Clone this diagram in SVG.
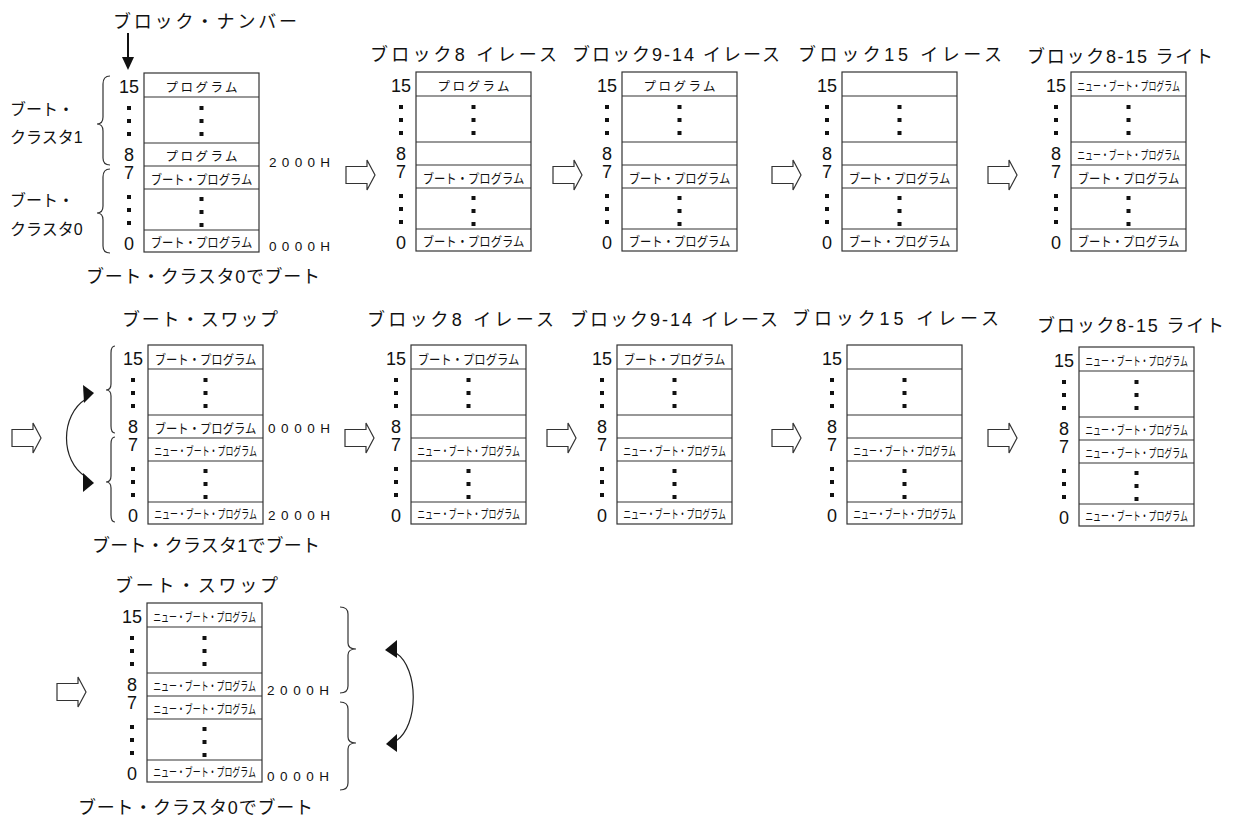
<svg xmlns="http://www.w3.org/2000/svg" xmlns:xlink="http://www.w3.org/1999/xlink" width="1237" height="825" viewBox="0 0 1237 825">
<style>
text{font-family:'Liberation Sans','Noto Sans CJK JP',sans-serif;fill:#111}
.ti{font-size:18px}
.n{font-size:18px;text-anchor:middle}
.p{font-size:12.5px;text-anchor:middle}
.bp{font-size:13px;text-anchor:middle}
.nb{font-size:12px;text-anchor:middle}
.hx{font-size:13.5px}
.lb{font-size:16px}
.box{fill:#fff;stroke:#333;stroke-width:1.2}
.ln{fill:none;stroke:#333;stroke-width:1.2}
.ha{fill:#fff;stroke:#333;stroke-width:1.2}
.br{fill:none;stroke:#333;stroke-width:1.2}
.cv{fill:none;stroke:#222;stroke-width:1.2}
.ah{fill:#111}
.dt{fill:#111}
</style>
<defs>
<g id="d3" class="dt"><rect x="-2" y="-2" width="4" height="4"/><rect x="-2" y="11" width="4" height="4"/><rect x="-2" y="24" width="4" height="4"/></g>
<g id="frame">
<rect class="box" x="0" y="0" width="115" height="179"/>
<path class="ln" d="M0 24H115M0 70H115M0 93H115M0 116H115M0 157H115"/>
<use href="#d3" xlink:href="#d3" x="57.5" y="35"/>
<use href="#d3" xlink:href="#d3" x="57.5" y="126"/>
<use href="#d3" xlink:href="#d3" x="-15" y="35"/>
<use href="#d3" xlink:href="#d3" x="-15" y="124"/>
</g>
<polygon id="harr" class="ha" points="0,-8.5 21,-8.5 21,-15 29,0 21,15 21,8.5 0,8.5"/>
</defs>
<rect width="1237" height="825" fill="#fff"/>

<!-- Row 1 -->
<g id="r1b1">
<text class="ti" x="113" y="28" textLength="184">ブロック・ナンバー</text>
<text class="lb" x="10" y="115">ブート・</text>
<text class="lb" x="10" y="143">クラスタ1</text>
<text class="lb" x="10" y="206">ブート・</text>
<text class="lb" x="10" y="235">クラスタ0</text>
<path class="br" d="M110 76Q103 76 103 84L103 117Q103 124 97 124Q103 124 103 131L103 158Q103 165 110 165"/>
<path class="br" d="M110 169Q103 169 103 177L103 206Q103 213 97 213Q103 213 103 220L103 246Q103 253 110 253"/>
<g transform="translate(144,73)">
<use href="#frame" xlink:href="#frame"/>
<text class="n" x="-15" y="20">15</text><text class="n" x="-15" y="88">8</text><text class="n" x="-15" y="106">7</text><text class="n" x="-15" y="177">0</text>
<text class="p" x="57.5" y="19" textLength="72">プログラム</text>
<text class="p" x="57.5" y="88" textLength="72">プログラム</text>
<text class="bp" transform="translate(57.5,111) scale(0.872,1)">ブート・プログラム</text>
<text class="bp" transform="translate(57.5,174) scale(0.872,1)">ブート・プログラム</text>
</g>
<text class="hx" x="269" y="167" textLength="61">2000H</text>
<text class="hx" x="269" y="251" textLength="61">0000H</text>
<text class="ti" x="86" y="283" textLength="234">ブート・クラスタ0でブート</text>
</g>

<g id="r1b2">
<text class="ti" x="370" y="61" textLength="187">ブロック8 イレース</text>
<g transform="translate(416,72)">
<use href="#frame" xlink:href="#frame"/>
<text class="n" x="-15" y="20">15</text><text class="n" x="-15" y="88">8</text><text class="n" x="-15" y="106">7</text><text class="n" x="-15" y="177">0</text>
<text class="p" x="57.5" y="19" textLength="72">プログラム</text>
<text class="bp" transform="translate(57.5,111) scale(0.872,1)">ブート・プログラム</text>
<text class="bp" transform="translate(57.5,174) scale(0.872,1)">ブート・プログラム</text>
</g>
</g>

<g id="r1b3">
<text class="ti" x="572" y="61" textLength="208">ブロック9-14 イレース</text>
<g transform="translate(622,72)">
<use href="#frame" xlink:href="#frame"/>
<text class="n" x="-15" y="20">15</text><text class="n" x="-15" y="88">8</text><text class="n" x="-15" y="106">7</text><text class="n" x="-15" y="177">0</text>
<text class="p" x="57.5" y="19" textLength="72">プログラム</text>
<text class="bp" transform="translate(57.5,111) scale(0.872,1)">ブート・プログラム</text>
<text class="bp" transform="translate(57.5,174) scale(0.872,1)">ブート・プログラム</text>
</g>
</g>

<g id="r1b4">
<text class="ti" x="798" y="61" textLength="204">ブロック15 イレース</text>
<g transform="translate(842,72)">
<use href="#frame" xlink:href="#frame"/>
<text class="n" x="-15" y="20">15</text><text class="n" x="-15" y="88">8</text><text class="n" x="-15" y="106">7</text><text class="n" x="-15" y="177">0</text>
<text class="bp" transform="translate(57.5,111) scale(0.872,1)">ブート・プログラム</text>
<text class="bp" transform="translate(57.5,174) scale(0.872,1)">ブート・プログラム</text>
</g>
</g>

<g id="r1b5">
<text class="ti" x="1027" y="63" textLength="186">ブロック8-15 ライト</text>
<g transform="translate(1071,72)">
<use href="#frame" xlink:href="#frame"/>
<text class="n" x="-15" y="20">15</text><text class="n" x="-15" y="88">8</text><text class="n" x="-15" y="106">7</text><text class="n" x="-15" y="177">0</text>
<text class="nb" transform="translate(57.5,19) scale(0.66,1)">ニュー・ブート・プログラム</text>
<text class="nb" transform="translate(57.5,88) scale(0.66,1)">ニュー・ブート・プログラム</text>
<text class="bp" transform="translate(57.5,111) scale(0.872,1)">ブート・プログラム</text>
<text class="bp" transform="translate(57.5,174) scale(0.872,1)">ブート・プログラム</text>
</g>
</g>

<!-- Row 2 -->
<g id="r2b1">
<text class="ti" x="122" y="326" textLength="156">ブート・スワップ</text>
<path class="br" d="M115 346Q111 346 111 353L111 384Q111 390 106 390Q111 390 111 396L111 426Q111 433 115 433"/>
<path class="br" d="M115 437Q111 437 111 444L111 476Q111 482 106 482Q111 482 111 488L111 515Q111 522 115 522"/>
<g transform="translate(148,345)">
<use href="#frame" xlink:href="#frame"/>
<text class="n" x="-15" y="20">15</text><text class="n" x="-15" y="88">8</text><text class="n" x="-15" y="106">7</text><text class="n" x="-15" y="177">0</text>
<text class="bp" transform="translate(57.5,19) scale(0.872,1)">ブート・プログラム</text>
<text class="bp" transform="translate(57.5,88) scale(0.872,1)">ブート・プログラム</text>
<text class="nb" transform="translate(57.5,111) scale(0.66,1)">ニュー・ブート・プログラム</text>
<text class="nb" transform="translate(57.5,174) scale(0.66,1)">ニュー・ブート・プログラム</text>
</g>
<text class="hx" x="268" y="433" textLength="62">0000H</text>
<text class="hx" x="268" y="520" textLength="62">2000H</text>
<text class="ti" x="92" y="552" textLength="228">ブート・クラスタ1でブート</text>
</g>

<g id="r2b2">
<text class="ti" x="367" y="326" textLength="187">ブロック8 イレース</text>
<g transform="translate(411,345)">
<use href="#frame" xlink:href="#frame"/>
<text class="n" x="-15" y="20">15</text><text class="n" x="-15" y="88">8</text><text class="n" x="-15" y="106">7</text><text class="n" x="-15" y="177">0</text>
<text class="bp" transform="translate(57.5,19) scale(0.872,1)">ブート・プログラム</text>
<text class="nb" transform="translate(57.5,111) scale(0.66,1)">ニュー・ブート・プログラム</text>
<text class="nb" transform="translate(57.5,174) scale(0.66,1)">ニュー・ブート・プログラム</text>
</g>
</g>

<g id="r2b3">
<text class="ti" x="570" y="326" textLength="208">ブロック9-14 イレース</text>
<g transform="translate(617,345)">
<use href="#frame" xlink:href="#frame"/>
<text class="n" x="-15" y="20">15</text><text class="n" x="-15" y="88">8</text><text class="n" x="-15" y="106">7</text><text class="n" x="-15" y="177">0</text>
<text class="bp" transform="translate(57.5,19) scale(0.872,1)">ブート・プログラム</text>
<text class="nb" transform="translate(57.5,111) scale(0.66,1)">ニュー・ブート・プログラム</text>
<text class="nb" transform="translate(57.5,174) scale(0.66,1)">ニュー・ブート・プログラム</text>
</g>
</g>

<g id="r2b4">
<text class="ti" x="792" y="325" textLength="207">ブロック15 イレース</text>
<g transform="translate(847,345)">
<use href="#frame" xlink:href="#frame"/>
<text class="n" x="-15" y="20">15</text><text class="n" x="-15" y="88">8</text><text class="n" x="-15" y="106">7</text><text class="n" x="-15" y="177">0</text>
<text class="nb" transform="translate(57.5,111) scale(0.66,1)">ニュー・ブート・プログラム</text>
<text class="nb" transform="translate(57.5,174) scale(0.66,1)">ニュー・ブート・プログラム</text>
</g>
</g>

<g id="r2b5">
<text class="ti" x="1037" y="332" textLength="187">ブロック8-15 ライト</text>
<g transform="translate(1079,347)">
<use href="#frame" xlink:href="#frame"/>
<text class="n" x="-15" y="20">15</text><text class="n" x="-15" y="88">8</text><text class="n" x="-15" y="106">7</text><text class="n" x="-15" y="177">0</text>
<text class="nb" transform="translate(57.5,19) scale(0.66,1)">ニュー・ブート・プログラム</text>
<text class="nb" transform="translate(57.5,88) scale(0.66,1)">ニュー・ブート・プログラム</text>
<text class="nb" transform="translate(57.5,111) scale(0.66,1)">ニュー・ブート・プログラム</text>
<text class="nb" transform="translate(57.5,174) scale(0.66,1)">ニュー・ブート・プログラム</text>
</g>
</g>

<!-- Row 3 -->
<g id="r3b1">
<text class="ti" x="115" y="592" textLength="163">ブート・スワップ</text>
<path class="br" d="M340 607Q348 607 348 614L348 643Q348 649 356 649Q348 649 348 655L348 686Q348 693 340 693"/>
<path class="br" d="M340 702Q348 702 348 709L348 737Q348 743 356 743Q348 743 348 749L348 783Q348 790 340 790"/>
<g transform="translate(147,603)">
<use href="#frame" xlink:href="#frame"/>
<text class="n" x="-15" y="20">15</text><text class="n" x="-15" y="88">8</text><text class="n" x="-15" y="106">7</text><text class="n" x="-15" y="177">0</text>
<text class="nb" transform="translate(57.5,19) scale(0.66,1)">ニュー・ブート・プログラム</text>
<text class="nb" transform="translate(57.5,88) scale(0.66,1)">ニュー・ブート・プログラム</text>
<text class="nb" transform="translate(57.5,111) scale(0.66,1)">ニュー・ブート・プログラム</text>
<text class="nb" transform="translate(57.5,174) scale(0.66,1)">ニュー・ブート・プログラム</text>
</g>
<text class="hx" x="267" y="695" textLength="62">2000H</text>
<text class="hx" x="267" y="781" textLength="62">0000H</text>
<text class="ti" x="78" y="814" textLength="235">ブート・クラスタ0でブート</text>
</g>

<!-- Connectors -->
<g id="connectors">
<line x1="128" y1="33" x2="128" y2="58" stroke="#111" stroke-width="2"/>
<polygon class="ah" points="122,57 134,57 128,70"/>
<use href="#harr" xlink:href="#harr" x="346" y="175"/>
<use href="#harr" xlink:href="#harr" x="553" y="175"/>
<use href="#harr" xlink:href="#harr" x="772" y="175"/>
<use href="#harr" xlink:href="#harr" x="988" y="175"/>
<use href="#harr" xlink:href="#harr" x="12" y="438"/>
<use href="#harr" xlink:href="#harr" x="345" y="438"/>
<use href="#harr" xlink:href="#harr" x="547" y="438"/>
<use href="#harr" xlink:href="#harr" x="772" y="438"/>
<use href="#harr" xlink:href="#harr" x="988" y="438"/>
<use href="#harr" xlink:href="#harr" x="57" y="692"/>
<path class="cv" d="M86 399C60 415 60 461 86 477"/>
<polygon class="ah" points="83,385 94,393 84,403"/>
<polygon class="ah" points="83,473 94,483 83,492"/>
<path class="cv" d="M396 653C419 668 419 726 396 741"/>
<polygon class="ah" points="397,640 385,650 397,658"/>
<polygon class="ah" points="397,734 386,744 397,752"/>
</g>
</svg>
